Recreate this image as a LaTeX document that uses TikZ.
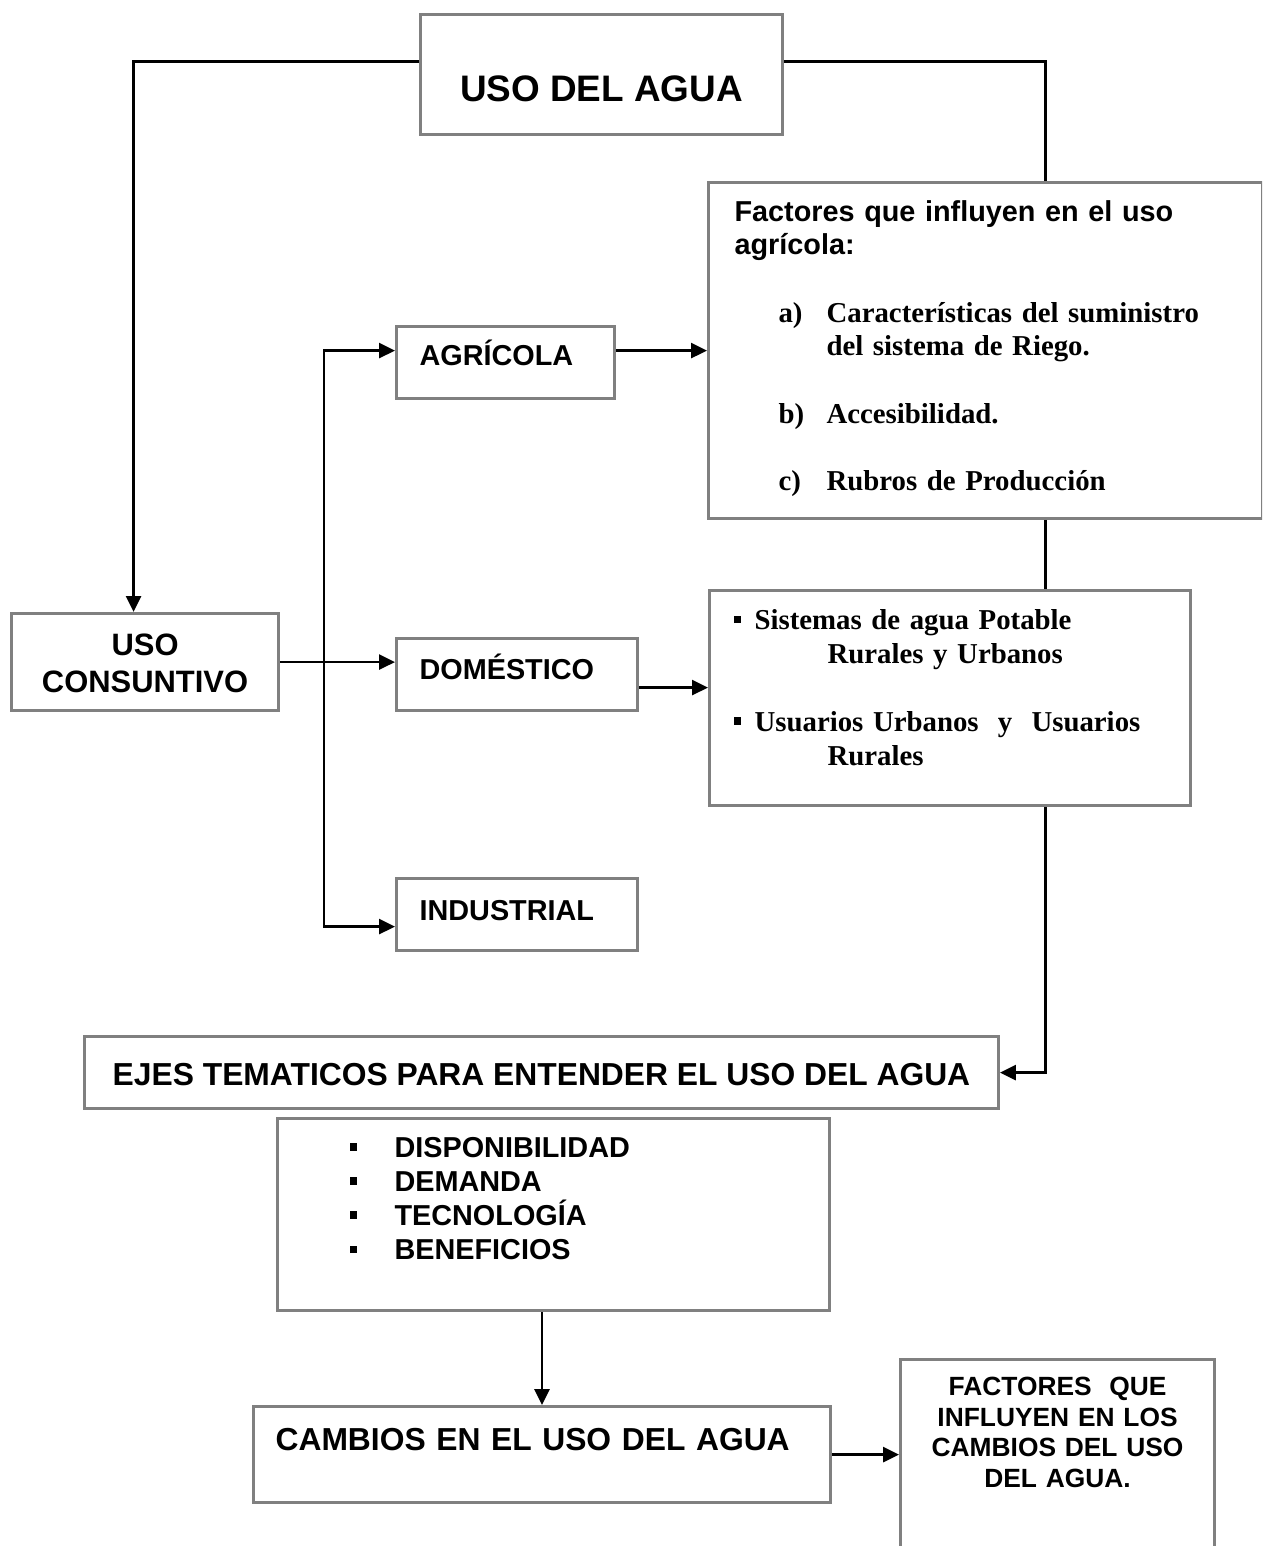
\documentclass[tikz,border=0pt]{standalone}
\usepackage{fontspec}
\setmainfont{Liberation Serif}
\setsansfont{Liberation Sans}
\usepackage{tikz}
\usetikzlibrary{positioning,arrows.meta,calc}
\definecolor{frameG}{HTML}{808080}
\definecolor{ink}{HTML}{000000}
\newcommand{\sqbul}{\rule[0.13cm]{0.15cm}{0.15cm}}
\tikzset{
  unit/.style={draw=frameG, line width=1.8pt, fill=white, anchor=north west,
               align=left, inner ysep=0pt, inner xsep=0.46cm,
               font=\sffamily\bfseries\fontsize{16.4}{19}\selectfont},
  banner/.style={unit, align=center, inner xsep=0pt},
  note/.style={unit, font=\rmfamily\bfseries\fontsize{16.4}{19}\selectfont},
  link/.style={line width=1.6pt, draw=ink},
  flow/.style={link, -{Triangle[length=0.32cm, width=0.3cm]}},
  twoway/.style={link, {Triangle[length=0.32cm, width=0.3cm]}-{Triangle[length=0.32cm, width=0.3cm]}},
}

\begin{document}
\begin{tikzpicture}[x=0.02cm, y=-0.02cm]
  \useasboundingbox (0,0) rectangle (1262,1546);
  \clip (0,0) rectangle (1262,1546);

  % ---------------------------------------------------------- top row
  \node[banner, minimum width=7.24cm, text height=1.74cm, text depth=0.66cm,
        font=\sffamily\bfseries\fontsize{21}{25}\selectfont] (top) at (419,13)
    {USO DEL AGUA};
  \node[note, inner xsep=0.52cm, text width=10.04cm, text height=0.78cm,
        text depth=5.94cm] (fac) at (707,181)
    {\sffamily Factores que influyen en el uso\\ agrícola:\\[0.68cm]\rmfamily
     \hspace*{0.88cm}\makebox[0.96cm][l]{a)}Características del suministro\\
     \hspace*{1.84cm}del sistema de Riego.\\[0.68cm]
     \hspace*{0.88cm}\makebox[0.96cm][l]{b)}Accesibilidad.\\[0.68cm]
     \hspace*{0.88cm}\makebox[0.96cm][l]{c)}Rubros de Producción};

  % ---------------------------------------------------------- the uses
  \node[unit, text width=3.44cm, text height=0.77cm, text depth=0.67cm]
    (agr) at (395,325) {AGRÍCOLA};
  \node[unit, align=center, inner xsep=0pt, text width=5.34cm,
        text height=0.84cm, text depth=1.1cm,
        font=\sffamily\bfseries\fontsize{17.6}{21}\selectfont] (cons) at (10,612)
    {USO\\ CONSUNTIVO};
  \node[unit, text width=3.9cm, text height=0.81cm, text depth=0.63cm]
    (dom) at (395,637) {DOMÉSTICO};
  \node[unit, text width=3.9cm, text height=0.83cm, text depth=0.61cm]
    (ind) at (395,877) {INDUSTRIAL};
  \node[note, inner xsep=0.48cm, text width=8.66cm, text height=0.78cm,
        text depth=3.52cm, font=\rmfamily\bfseries\fontsize{16.4}{19.3}\selectfont]
    (pot) at (708,589)
    {\makebox[0.42cm][l]{\sqbul}Sistemas de agua Potable\\
     \hspace*{1.88cm}Rurales y Urbanos\\[0.68cm]
     \makebox[0.42cm][l]{\sqbul}Usuarios Urbanos\ \ y\ \ Usuarios\\
     \hspace*{1.88cm}Rurales};

  % ---------------------------------------------------------- the axes
  \node[banner, minimum width=18.28cm, text height=0.97cm, text depth=0.47cm,
        font=\sffamily\bfseries\fontsize{18.1}{22}\selectfont] (ejes) at (83,1035)
    {EJES TEMATICOS PARA ENTENDER EL USO DEL AGUA};
  \node[unit, inner xsep=1.44cm, text width=8.16cm, text height=0.77cm,
        text depth=3.07cm, font=\sffamily\bfseries\fontsize{16.4}{19.45}\selectfont]
    (ejelist) at (276,1117)
    {\makebox[0.9cm][l]{\sqbul}DISPONIBILIDAD\\
     \makebox[0.9cm][l]{\sqbul}DEMANDA\\
     \makebox[0.9cm][l]{\sqbul}TECNOLOGÍA\\
     \makebox[0.9cm][l]{\sqbul}BENEFICIOS};
  \node[unit, inner xsep=0.44cm, text width=10.66cm, text height=0.87cm,
        text depth=1.05cm, font=\sffamily\bfseries\fontsize{18.1}{22}\selectfont]
    (cam) at (252,1405) {CAMBIOS EN EL USO DEL AGUA};
  \node[unit, align=center, inner xsep=0pt, text width=6.28cm, text height=0.71cm,
        text depth=3.4cm, font=\sffamily\bfseries\fontsize{15}{17.6}\selectfont]
    (fcam) at (899,1358)
    {FACTORES\ \ QUE\\ INFLUYEN EN LOS\\ CAMBIOS DEL USO\\ DEL AGUA.};

  % ---------------------------------------------------------- connectors
  \coordinate (bus) at (324,661);
  \draw[flow] ([yshift=0.26cm]top.west) -| ([xshift=-0.23cm]cons.north);
  \draw[link] ([yshift=0.26cm]top.east) -| ([xshift=1.2cm]fac.north);
  \draw[link] ([xshift=1.2cm]fac.south) -- ([xshift=1.2cm]fac.south |- pot.north);
  \draw[flow] ([xshift=1.2cm]fac.south |- pot.south) |- (ejes.east);

  \draw[twoway] ([yshift=0.24cm]agr.west) -| (bus) |- ([yshift=-0.24cm]ind.west);
  \draw[flow] (cons.east) -- (cons.east -| dom.west);
  \draw[flow] ([yshift=0.24cm]agr.east) -- ([yshift=0.24cm]agr.east -| fac.west);
  \draw[flow] ([yshift=-0.26cm]dom.east) -- ([yshift=-0.26cm]dom.east -| pot.west);

  \draw[flow] (cam.north |- ejelist.south) -- (cam.north);
  \draw[flow] (cam.east) -- (cam.east -| fcam.west);
\end{tikzpicture}
\end{document}
